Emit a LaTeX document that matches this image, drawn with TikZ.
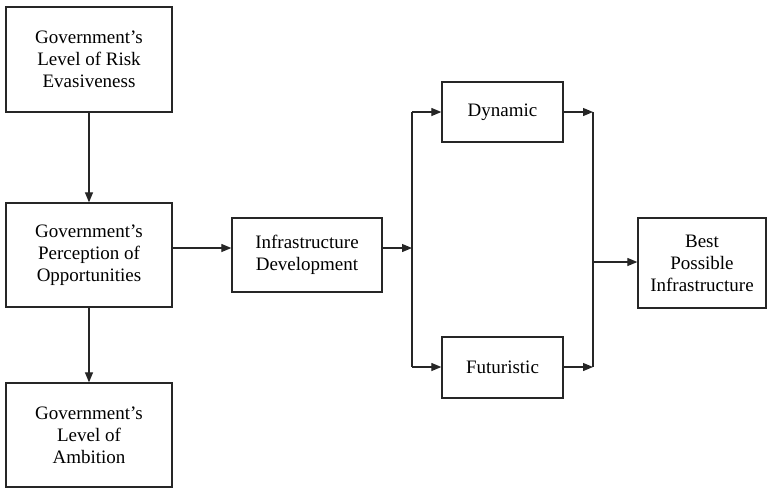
\documentclass[tikz,border=0pt]{standalone}
\usepackage{fontspec}
\setmainfont{Liberation Serif}
\usetikzlibrary{arrows.meta}
\begin{document}
\begin{tikzpicture}[x=1pt,y=-1pt,
  box/.style={draw=black!85, line width=1.3pt, align=center, inner sep=0pt,
    font=\rmfamily\fontsize{19}{22}\selectfont},
  arr/.style={draw=black!85, line width=1.2pt, -{Triangle[length=10pt,width=8pt]}},
  ln/.style={draw=black!85, line width=1.2pt}]
\useasboundingbox (0,0) rectangle (767,488);

% boxes
\node[box, minimum width=166pt, minimum height=105pt] (risk) at (89,59.5)
  {Government’s\\Level of Risk\\Evasiveness};
\node[box, minimum width=166pt, minimum height=104pt] (perc) at (89,255)
  {Government’s\\Perception of\\Opportunities};
\node[box, minimum width=166pt, minimum height=104pt] (amb) at (89,435)
  {Government’s\\Level of\\Ambition};
\node[box, minimum width=150pt, minimum height=74pt] (infra) at (307,255)
  {Infrastructure\\Development};
\node[box, minimum width=121pt, minimum height=60pt] (dyn) at (502.5,112)
  {Dynamic};
\node[box, minimum width=121pt, minimum height=61pt] (fut) at (502.5,367.5)
  {Futuristic};
\node[box, minimum width=128pt, minimum height=90pt] (best) at (702,263)
  {Best\\Possible\\Infrastructure};

% split and merge points
\coordinate (split) at (412,248);
\coordinate (splitT) at (412,112);
\coordinate (splitB) at (412,367);
\coordinate (mergeT) at (593,112);
\coordinate (mergeB) at (593,367);
\coordinate (merge) at (593,262);

% connectors
\draw[arr] (risk) -- (perc);
\draw[arr] (perc) -- (amb);
\draw[arr] (perc.east |- split) -- (infra.west |- split);
\draw[arr] (infra.east |- split) -- (split);
\draw[ln] (splitT) -- (splitB);
\draw[arr] (splitT) -- (dyn.west |- splitT);
\draw[arr] (splitB) -- (fut.west |- splitB);
\draw[arr] (dyn.east |- mergeT) -- (mergeT);
\draw[arr] (fut.east |- mergeB) -- (mergeB);
\draw[ln] (mergeT) -- (mergeB);
\draw[arr] (merge) -- (best.west |- merge);
\end{tikzpicture}
\end{document}
